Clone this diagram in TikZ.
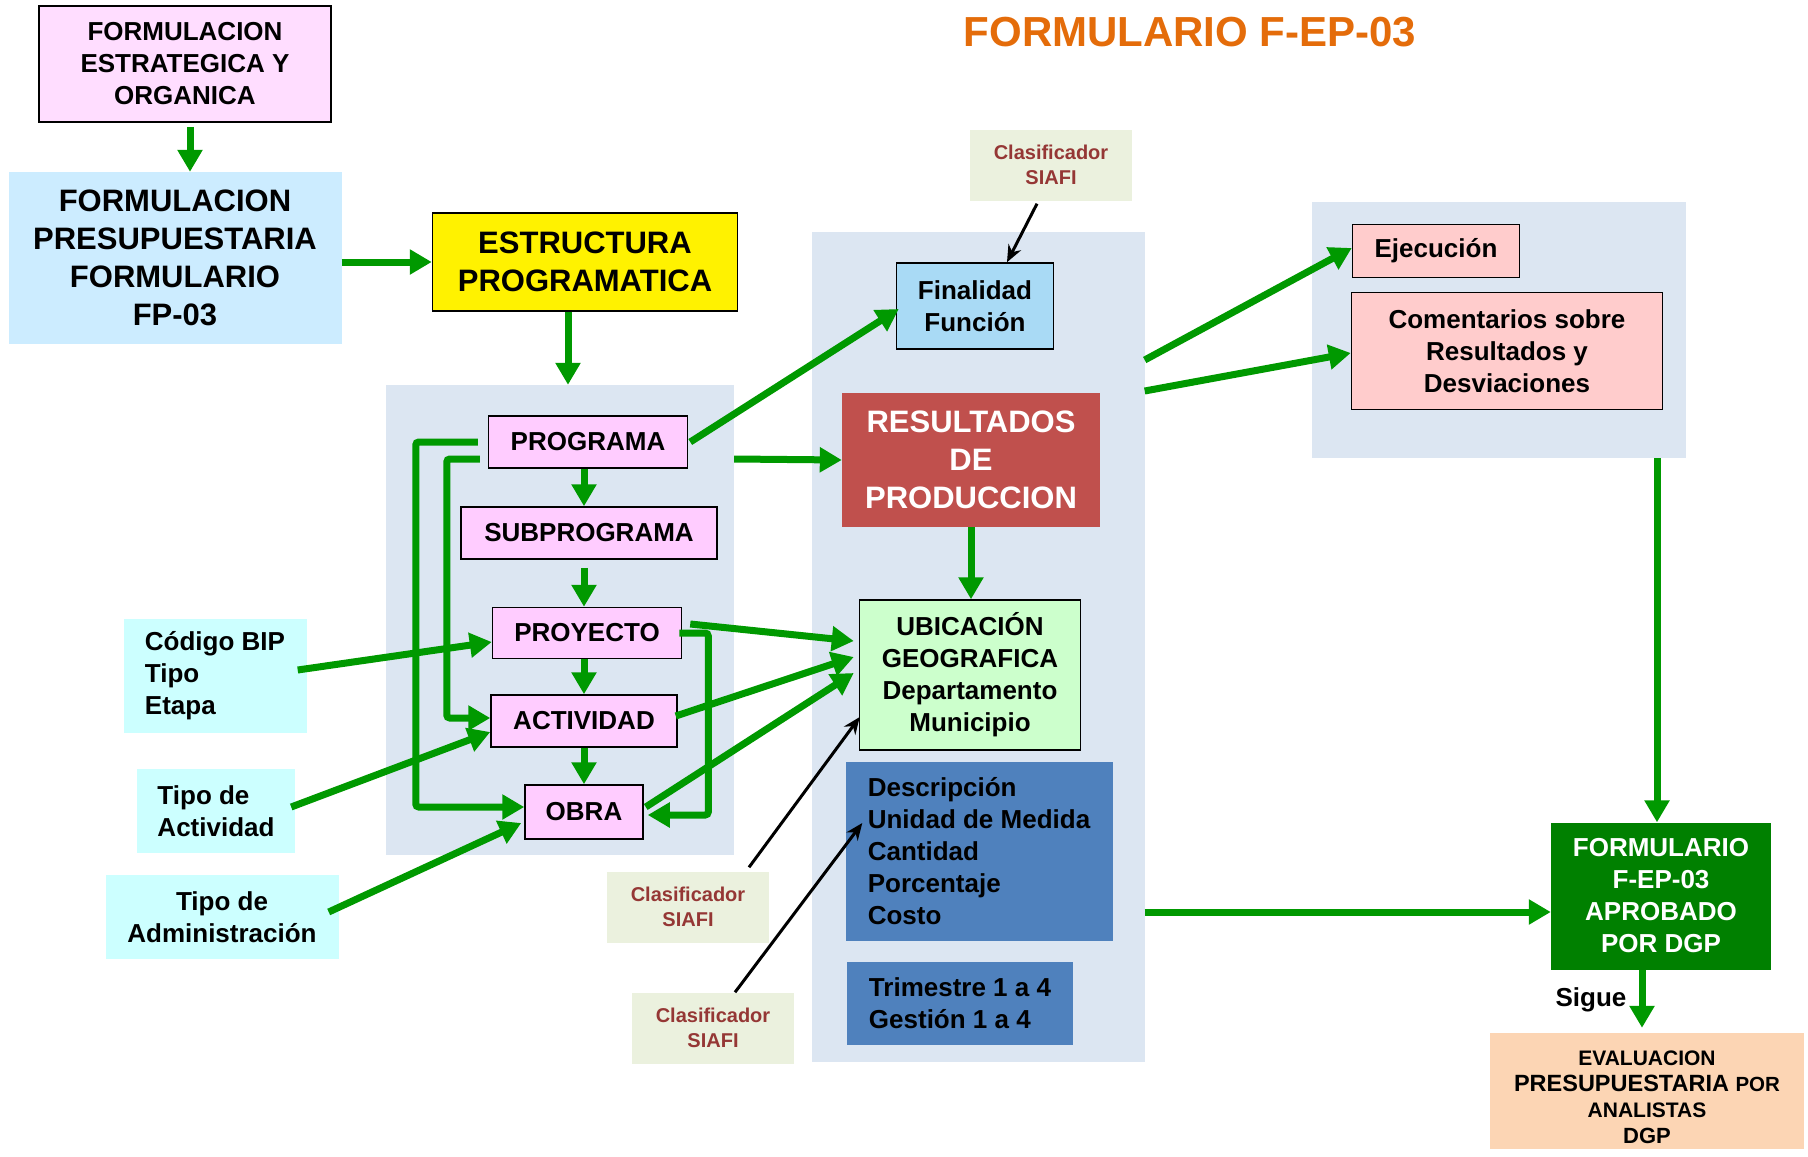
\documentclass[tikz,border=0pt]{standalone}
\usepackage{fontspec}
\setmainfont{Liberation Sans}
\usetikzlibrary{arrows.meta,calc}
\definecolor{garr}{RGB}{0,153,0}
\definecolor{pinkA}{HTML}{FFDDFF}
\definecolor{pinkB}{HTML}{FFCCFF}
\definecolor{bluB}{HTML}{CCECFF}
\definecolor{panelc}{HTML}{DCE6F2}
\definecolor{cyanb}{HTML}{CCFFFF}
\definecolor{finc}{HTML}{A9DAF5}
\definecolor{clasc}{HTML}{EBF1DE}
\definecolor{clast}{HTML}{953735}
\definecolor{resc}{HTML}{C0504D}
\definecolor{ubic}{HTML}{CCFFCC}
\definecolor{descc}{HTML}{4F81BD}
\definecolor{ejecc}{HTML}{FFCCCC}
\definecolor{fepc}{HTML}{008000}
\definecolor{evalc}{HTML}{FCD5B4}
\definecolor{titlec}{HTML}{E46C0A}
\newcommand\myfs[2]{\fontsize{#1}{#2}\selectfont}
\begin{document}
\begin{tikzpicture}[x=1pt,y=-1pt,
  base/.style={inner sep=0pt, align=center, font=\bfseries\myfs{26}{32}},
  box/.style={base, draw=black, line width=1.5pt},
  plain/.style={base},
  panel/.style={fill=panelc, inner sep=0pt},
  clas/.style={base, fill=clasc, text=clast, font=\bfseries\myfs{20}{25.5}, minimum width=162pt, minimum height=71pt},
  garrow/.style={draw=garr, line width=7pt, -{Triangle[length=22pt,width=24pt]}},
  karrow/.style={draw=black, line width=3pt, -{Stealth[length=17pt,width=14pt]}}
]
\fill[white] (0,0) rectangle (1808,1157);
\useasboundingbox (0,0) rectangle (1808,1157);

% panels
\node[panel, minimum width=348pt, minimum height=470pt] (panelL) at (560,620) {};
\node[panel, minimum width=333pt, minimum height=830pt] (panelC) at (978,647) {};
\node[panel, minimum width=374pt, minimum height=256pt] (panelR) at (1499,330) {};

% title
\node[base, text=titlec, font=\bfseries\myfs{42}{48}] (title) at (1190,32) {FORMULARIO F-EP-03};

% left column
\node[box, fill=pinkA, minimum width=292pt, minimum height=116pt] (A) at (185,64) {FORMULACION\\ESTRATEGICA Y\\ORGANICA};
\node[plain, fill=bluB, minimum width=333pt, minimum height=172pt, font=\bfseries\myfs{31}{38}] (B) at (175,258) {FORMULACION\\PRESUPUESTARIA\\FORMULARIO\\FP-03};
\node[box, fill=yellow, minimum width=305pt, minimum height=98pt, font=\bfseries\myfs{31}{38}] (C) at (585,262) {ESTRUCTURA\\PROGRAMATICA};

\node[box, fill=pinkB, minimum width=199pt, minimum height=52pt] (prog) at (588,442) {PROGRAMA};
\node[box, fill=pinkB, minimum width=256pt, minimum height=52pt] (sub) at (589,533) {SUBPROGRAMA};
\node[box, fill=pinkB, minimum width=189pt, minimum height=51pt] (proy) at (587,633) {PROYECTO};
\node[box, fill=pinkB, minimum width=186pt, minimum height=52pt] (act) at (584,721) {ACTIVIDAD};
\node[box, fill=pinkB, minimum width=118pt, minimum height=54pt] (obra) at (584,812) {OBRA};

\node[plain, fill=cyanb, align=left, minimum width=183pt, minimum height=114pt] (bip) at (215,676) {Código BIP\\Tipo\\Etapa};
\node[plain, fill=cyanb, align=left, minimum width=158pt, minimum height=84pt] (tact) at (216,811) {Tipo de\\Actividad};
\node[plain, fill=cyanb, minimum width=233pt, minimum height=84pt] (tadm) at (222,917) {Tipo de\\Administración};

% center
\node[clas] (clas1) at (1051,165) {Clasificador\\SIAFI};
\node[box, fill=finc, minimum width=157pt, minimum height=86pt] (fin) at (975,306) {Finalidad\\Función};
\node[plain, fill=resc, text=white, minimum width=258pt, minimum height=134pt, font=\bfseries\myfs{31}{38}] (res) at (971,460) {RESULTADOS\\DE\\PRODUCCION};
\node[box, fill=ubic, minimum width=221pt, minimum height=150pt] (ubi) at (970,675) {UBICACIÓN\\GEOGRAFICA\\Departamento\\Municipio};
\node[plain, fill=descc, align=left, minimum width=267pt, minimum height=179pt] (desc) at (979,851) {Descripción\\Unidad de Medida\\Cantidad\\Porcentaje\\Costo};
\node[plain, fill=descc, align=left, minimum width=226pt, minimum height=83pt] (trim) at (960,1003) {Trimestre 1 a 4\\Gestión 1 a 4};
\node[clas] (clas2) at (688,907) {Clasificador\\SIAFI};
\node[clas] (clas3) at (713,1028) {Clasificador\\SIAFI};

% right
\node[box, fill=ejecc, minimum width=167pt, minimum height=53pt] (ejec) at (1436,251) {Ejecución};
\node[box, fill=ejecc, minimum width=311pt, minimum height=117pt] (com) at (1507,351) {Comentarios sobre\\Resultados y\\Desviaciones};
\node[plain, fill=fepc, text=white, minimum width=220pt, minimum height=147pt] (fep) at (1661,896) {FORMULARIO\\F-EP-03\\APROBADO\\POR DGP};
\node[plain, fill=evalc, minimum width=314pt, minimum height=116pt, font=\bfseries\myfs{21}{26}] (eval) at (1647,1091) {\rule{0pt}{27pt}\myfs{21}{26}EVALUACION\\\myfs{23.5}{26}PRESUPUESTARIA \myfs{20.5}{26}POR\\\myfs{21}{26}ANALISTAS\\\myfs{22}{26}DGP};
\node[plain] (sigue) at (1591,1000) {Sigue};

% green arrows
\draw[garrow] ([xshift=5pt,yshift=-4pt]A.south) -- ([xshift=5pt]A.south |- B.north);
\draw[garrow] (B.east |- C.west) -- (C.west);
\draw[garrow] ([xshift=-17pt]C.south) -- ([xshift=-17pt]C.south |- panelL.north);
\draw[garrow] (prog.south -| obra.center) -- (sub.north -| obra.center);
\draw[garrow] ([yshift=-8pt]sub.south -| obra.center) -- (proy.north -| obra.center);
\draw[garrow] (proy.south -| obra.center) -- (act.north -| obra.center);
\draw[garrow] (act.south -| obra.center) -- (obra.north);
\draw[garrow, rounded corners=3pt] ([xshift=-10pt]prog.west) -- ++(-62,0) |- ([yshift=5pt]obra.west);
\draw[garrow, rounded corners=3pt] ([xshift=-8pt,yshift=-17pt]prog.west) -- ++(-33,0) |- ([yshift=3pt]act.west);
\draw[garrow, rounded corners=3pt] ([xshift=-3pt]proy.east) -- ++(29,0) |- ([xshift=4pt,yshift=-3pt]obra.east);
\draw[garrow] ([xshift=-9pt,yshift=6pt]bip.east) -- ([yshift=-9pt]proy.west);
\draw[garrow] ([xshift=-4pt,yshift=4pt]tact.east) -- ([yshift=-11pt]act.west);
\draw[garrow] ([xshift=-10pt,yshift=5pt]tadm.east) -- ([xshift=-3pt,yshift=-11pt]obra.west);
\draw[garrow] ([xshift=2pt]prog.east) -- ([xshift=3pt,yshift=-3pt]fin.west);
\draw[garrow] ([yshift=-17pt]prog.east -| panelL.east) -- (res.west);
\draw[garrow] ([xshift=8pt,yshift=9pt]proy.east) -- ([xshift=-5pt,yshift=34pt]ubi.west);
\draw[garrow] ([xshift=-2pt,yshift=5pt]act.east) -- ([xshift=-5pt,yshift=18pt]ubi.west);
\draw[garrow] ([xshift=2pt,yshift=5pt]obra.east) -- ([xshift=-5pt,yshift=2pt]ubi.west);
\draw[garrow] (res.south) -- (res.south |- ubi.north);
\draw[garrow] ([yshift=287pt]panelC.east) -- ([yshift=3pt]ejec.west);
\draw[garrow] ([yshift=256pt]panelC.east) -- ([yshift=-2pt]com.west);
\draw[garrow] ([xshift=158pt]panelR.south) -- ([xshift=158pt]panelR.south |- fep.north);
\draw[garrow] ([yshift=-265pt]panelC.east) -- ([yshift=-16pt]fep.west);
\draw[garrow] ([xshift=-19pt]fep.south) -- ([xshift=-19pt,yshift=5pt]fep.south |- eval.north);

% black arrows
\draw[karrow] ([xshift=-14pt,yshift=-3pt]clas1.south) -- ([xshift=32pt]fin.north);
\draw[karrow] ([xshift=61pt,yshift=4pt]clas2.north) -- ([xshift=1pt,yshift=-42pt]ubi.west);
\draw[karrow] ([xshift=22pt]clas3.north) -- ([xshift=17pt,yshift=28pt]desc.west);
\end{tikzpicture}
\end{document}
